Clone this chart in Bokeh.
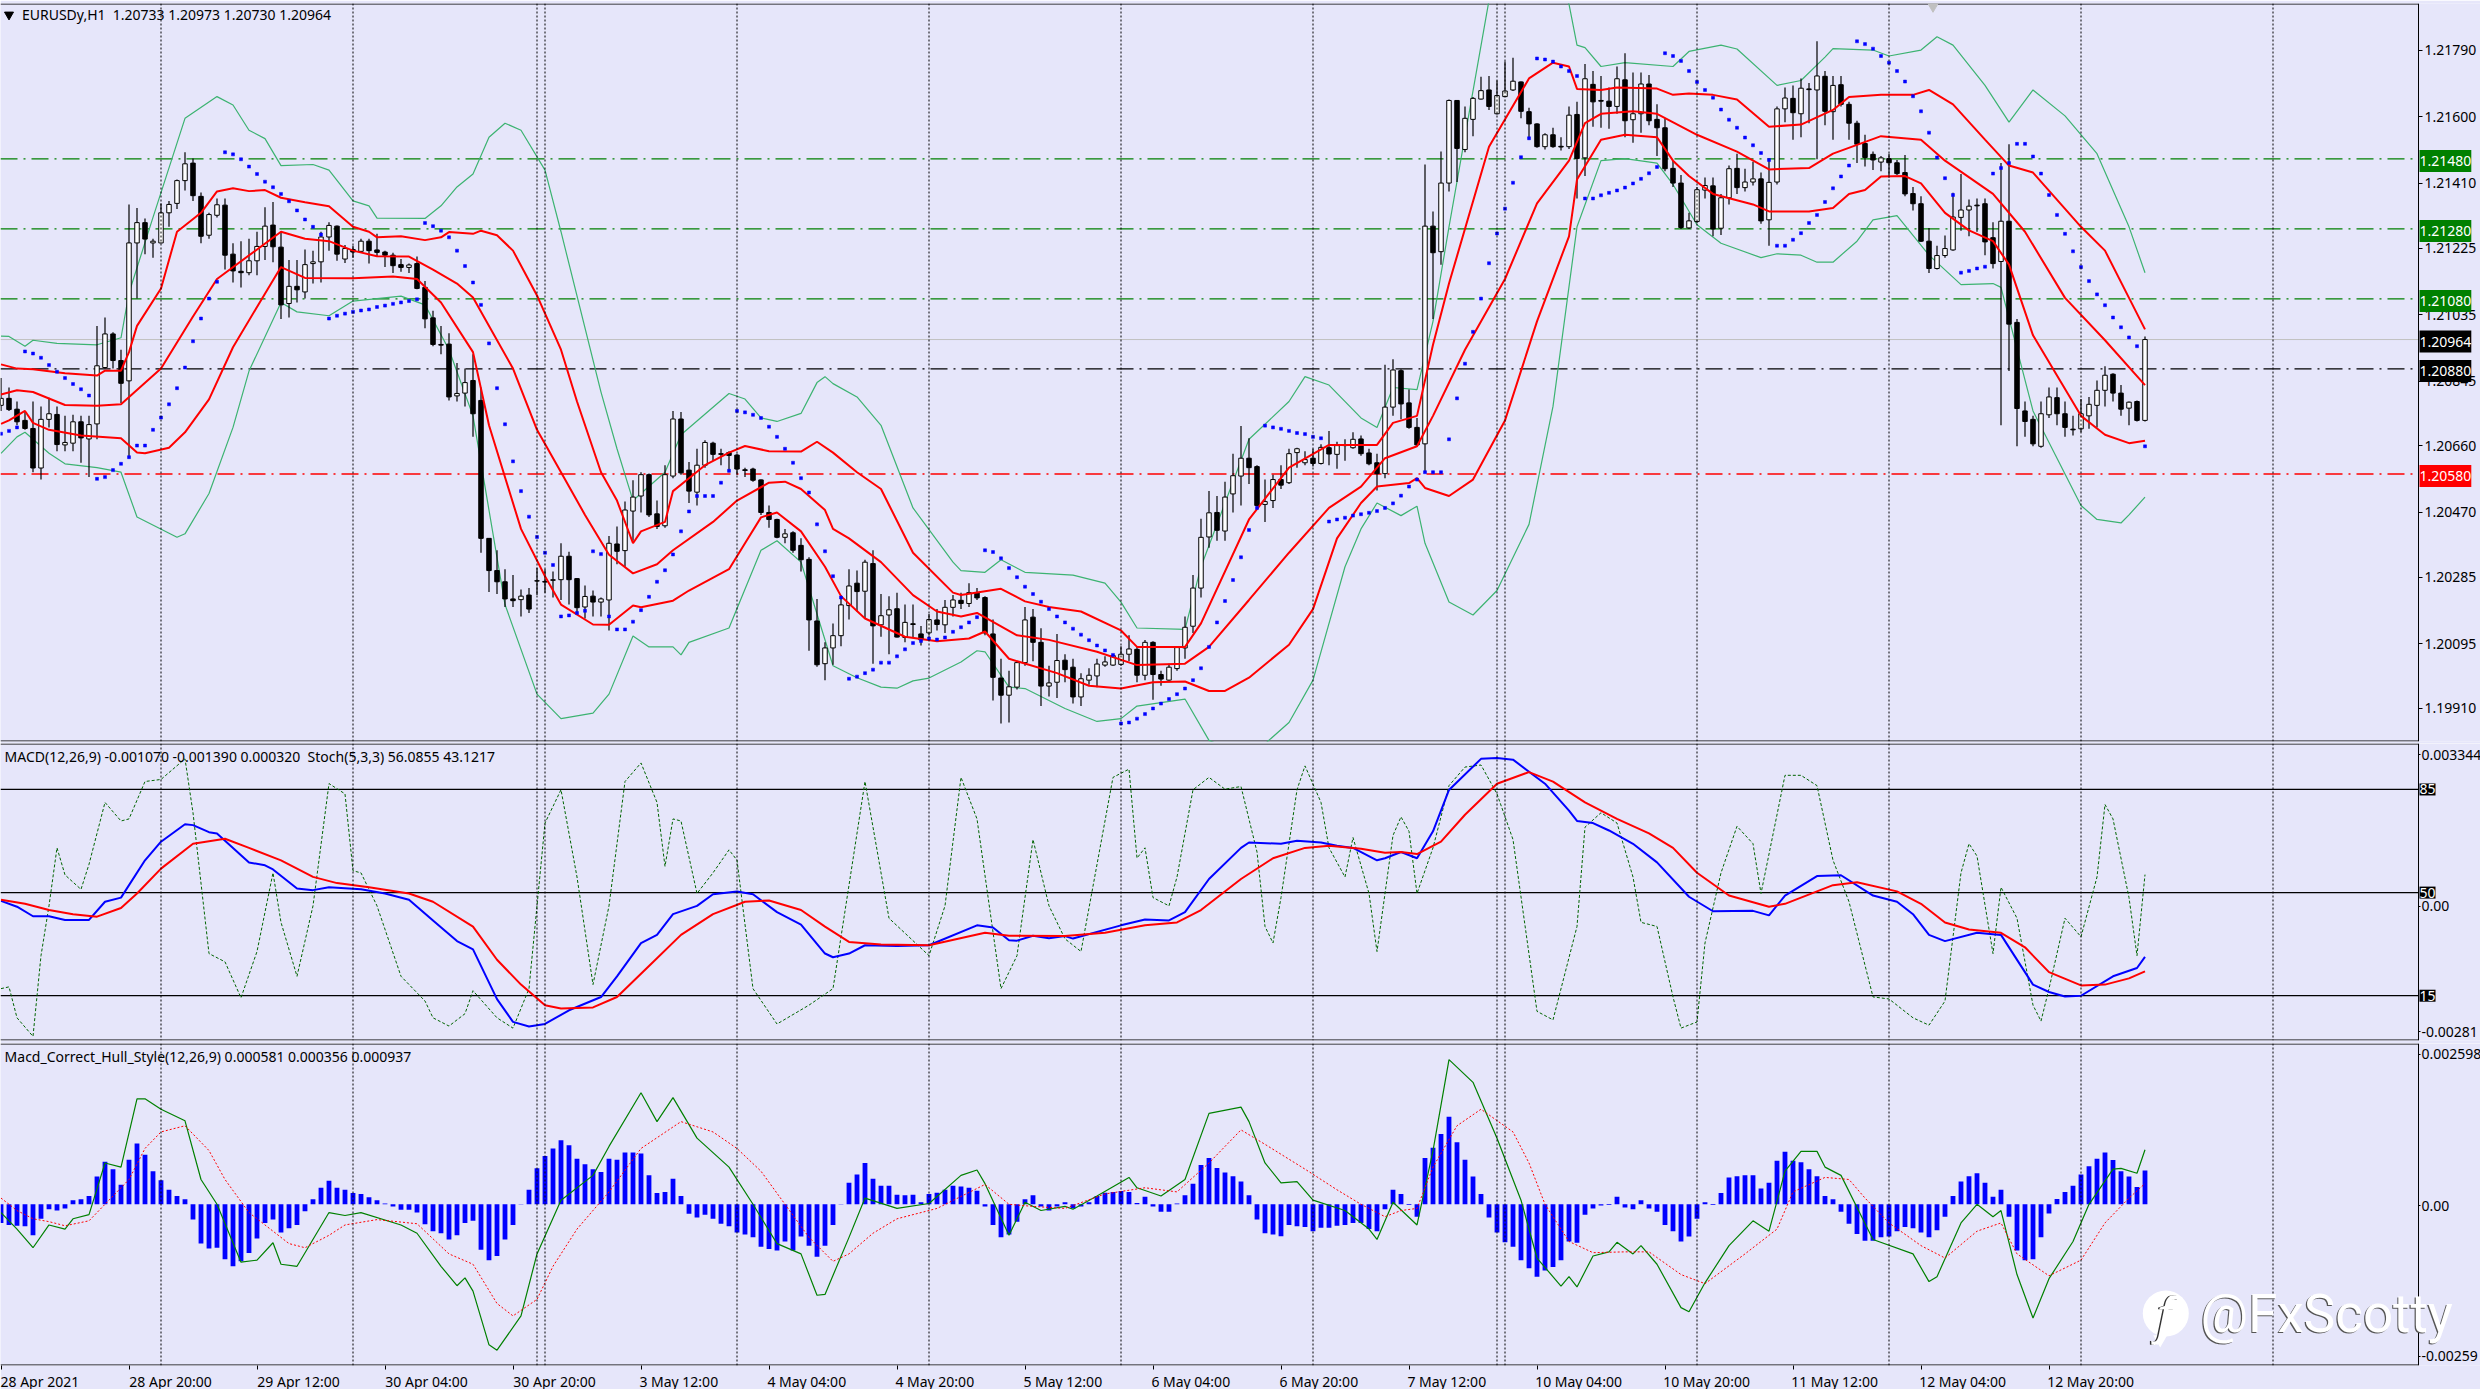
from bokeh.plotting import figure
from bokeh.layouts import column
from bokeh.models import (ColumnDataSource, Range1d, FixedTicker, Span, Label)
from bokeh.embed import file_html
from bokeh.resources import INLINE

# ---- candles: prices as points, price = 1 + points / 100000 ----
opens = [20776,20796,20765,20733,20710,20597,20736,20750,20663,20668,20729,20680,20723,20884,20980,20904,20846,21240,21298,21240,21240,21326,21353,21418,21468,21373,21262,21319,21348,21208,21159,21155,21189,21230,21291,21228,21067,21116,21100,21181,21186,21257,21288,21194,21221,21216,21245,21220,21214,21205,21178,21170,21181,21113,21026,20950,20951,20803,20811,20847,20790,20396,20304,20272,20223,20221,20234,20275,20273,20276,20278,20345,20281,20200,20231,20214,20220,20380,20361,20474,20517,20578,20466,20432,20574,20737,20591,20528,20605,20668,20638,20641,20634,20592,20594,20563,20470,20450,20399,20412,
20376,20336,20160,20038,20083,20118,20204,20268,20245,20324,20149,20177,20195,20113,20152,20123,20126,20163,20149,20199,20219,20210,20241,20227,20123,19997,19948,19971,20041,20171,20099,19974,19985,20048,20028,19943,19991,20003,20034,20034,20036,20065,20079,20005,20099,20007,19991,20024,20083,20145,20254,20400,20470,20417,20523,20574,20625,20601,20493,20504,20564,20555,20641,20612,20625,20610,20655,20636,20663,20655,20680,20640,20612,20581,20771,20875,20783,20713,20666,21288,21215,21411,21647,21507,21593,21651,21677,21609,21658,21677,21700,21615,21580,21515,21549,21516,21515,21607,21483,21693,
21647,21645,21630,21706,21592,21609,21694,21593,21569,21453,21411,21283,21301,21391,21403,21282,21369,21453,21398,21414,21423,21306,21414,21623,21653,21609,21680,21677,21716,21615,21692,21636,21582,21524,21493,21471,21481,21469,21441,21381,21352,21245,21167,21204,21220,21313,21334,21348,21352,21255,21187,21302,21013,20760,20736,20659,20749,20798,20752,20708,20709,20746,20776,20819,20865,20811,20768,20787,20733]
highs = [20854,20827,20787,20760,20787,20773,20798,20773,20746,20749,20746,20746,21003,21027,20985,20935,21350,21340,21310,21252,21353,21360,21421,21499,21481,21384,21326,21367,21367,21239,21245,21252,21272,21342,21357,21272,21191,21191,21221,21218,21272,21299,21290,21234,21232,21252,21252,21266,21218,21212,21194,21181,21201,21131,21046,21003,20982,20897,20881,20922,20827,20396,20362,20308,20291,20250,20254,20312,20308,20301,20382,20358,20283,20261,20247,20227,20403,20430,20501,20562,20585,20581,20504,20605,20760,20757,20614,20652,20676,20672,20652,20645,20638,20598,20598,20564,20490,20452,20423,20416,
20396,20342,20223,20099,20153,20234,20308,20304,20335,20362,20237,20231,20241,20207,20207,20146,20180,20194,20220,20234,20241,20268,20254,20231,20164,20052,20018,20045,20200,20194,20139,20032,20123,20065,20052,20011,20025,20052,20059,20065,20088,20119,20086,20106,20102,20018,20038,20088,20173,20291,20452,20531,20517,20558,20638,20717,20682,20605,20564,20578,20605,20652,20655,20645,20652,20665,20703,20672,20679,20699,20690,20652,20638,20892,20908,20879,20821,20740,21464,21330,21501,21650,21647,21630,21657,21715,21717,21704,21758,21769,21701,21626,21582,21553,21569,21542,21630,21643,21751,21731,
21717,21684,21744,21782,21727,21727,21720,21636,21596,21475,21434,21326,21400,21427,21427,21380,21461,21495,21452,21472,21441,21481,21630,21684,21690,21710,21697,21816,21731,21717,21717,21643,21589,21549,21501,21488,21495,21477,21491,21400,21373,21283,21232,21261,21383,21437,21364,21367,21367,21299,21468,21522,21023,20787,20746,20787,20827,20827,20787,20746,20794,20800,20847,20888,20868,20834,20787,20790,20973]
lows = [20760,20760,20719,20706,20585,20564,20713,20645,20645,20645,20612,20571,20679,20881,20881,20783,20625,21081,21208,21198,21239,21286,21337,21390,21360,21239,21252,21313,21164,21127,21113,21148,21148,21191,21185,21023,21027,21070,21081,21124,21127,21218,21189,21183,21198,21212,21181,21202,21171,21154,21158,21154,21108,20996,20945,20922,20790,20787,20773,20686,20355,20243,20237,20200,20200,20173,20183,20234,20241,20227,20220,20207,20180,20167,20173,20173,20133,20322,20315,20389,20470,20457,20423,20426,20568,20578,20497,20490,20598,20618,20605,20585,20578,20571,20558,20463,20426,20396,20382,20355,
20301,20075,20029,19991,20035,20088,20164,20187,20167,20038,20115,20065,20113,20099,20113,20090,20119,20133,20126,20173,20194,20200,20220,20119,19933,19867,19870,19964,20032,20045,19917,19944,19940,19985,19924,19917,19978,19971,20029,20032,20032,20045,19985,19991,19935,19975,19985,20018,20052,20126,20227,20369,20389,20389,20470,20490,20551,20483,20443,20483,20537,20551,20598,20605,20601,20607,20605,20595,20618,20652,20632,20605,20533,20568,20746,20736,20709,20659,20585,21023,21178,21387,21414,21499,21545,21650,21620,21607,21657,21674,21596,21535,21512,21507,21512,21504,21508,21367,21431,21572,
21569,21566,21609,21542,21526,21555,21576,21488,21445,21400,21280,21280,21297,21367,21259,21263,21350,21380,21387,21404,21295,21232,21407,21585,21535,21542,21582,21479,21576,21535,21630,21535,21468,21458,21448,21445,21427,21434,21373,21333,21243,21154,21164,21198,21218,21275,21259,21272,21205,21167,20719,20874,20659,20686,20659,20655,20740,20719,20686,20690,20699,20709,20713,20773,20787,20746,20719,20730,20730]
closes = [20796,20764,20729,20710,20597,20736,20752,20664,20670,20729,20683,20721,20889,20980,20904,20839,21240,21298,21251,21245,21326,21350,21418,21466,21375,21259,21321,21349,21205,21160,21155,21189,21230,21288,21229,21063,21116,21106,21178,21186,21257,21290,21208,21224,21214,21245,21218,21213,21205,21175,21170,21177,21110,21023,20950,20948,20800,20810,20841,20752,20396,20304,20272,20223,20218,20231,20194,20274,20271,20278,20345,20278,20198,20230,20214,20223,20382,20359,20477,20514,20578,20463,20430,20578,20737,20583,20531,20605,20670,20636,20636,20633,20594,20590,20562,20470,20450,20399,20409,20362,
20335,20163,20035,20083,20118,20206,20260,20244,20328,20146,20175,20192,20114,20156,20150,20106,20164,20150,20199,20220,20210,20241,20226,20126,19999,19948,19972,20041,20163,20099,19974,19983,20047,20021,19943,19995,20005,20037,20043,20061,20065,20080,20005,20099,20007,19994,20028,20084,20142,20254,20399,20469,20419,20514,20575,20625,20598,20490,20501,20564,20548,20638,20652,20621,20610,20656,20637,20661,20661,20679,20638,20609,20581,20771,20877,20780,20713,20663,21288,21212,21411,21647,21510,21596,21653,21675,21630,21661,21674,21702,21616,21580,21515,21549,21515,21514,21605,21481,21709,21643,
21645,21630,21709,21589,21609,21694,21589,21569,21452,21411,21284,21303,21392,21404,21280,21369,21452,21398,21414,21423,21303,21413,21623,21654,21612,21682,21678,21717,21616,21690,21636,21582,21522,21484,21477,21483,21469,21438,21380,21352,21245,21167,21204,21224,21314,21334,21345,21346,21243,21181,21302,21008,20767,20730,20666,20752,20800,20752,20713,20706,20752,20779,20819,20862,20811,20765,20785,20733,20964]

# ---- fixed horizontal levels ----
green_levels = [1.21480, 1.21280, 1.21080]
black_level = 1.20880
red_level = 1.20580
last_price = 1.20964

# ---- bands: bar index and price points ----
upper_red = [(0,20893),(2,20881),(4,20879),(8,20868),(12,20861),(13,20875),(15,20875),(16,20928),(17,21003),(20,21110),(22,21272),(25,21326),(27,21387),(29,21396),(31,21388),(33,21391),(35,21369),(38,21356),(41,21345),(44,21286),(46,21272),(47,21256),(50,21259),(53,21248),(55,21256),(56,21271),(59,21266),(60,21275),(62,21262),(64,21218),(67,21090),(70,20935),(72,20787),(75,20585),(77,20504),(79,20382),(80,20416),(83,20443),(84,20531),(86,20568),(88,20605),(91,20641),(93,20660),(96,20645),(100,20644),(102,20672),(104,20641),(107,20585),(110,20537),(114,20355),(119,20241),(120,20234),(125,20252),(128,20216),(131,20200),(135,20187),(140,20133),(142,20086),(148,20086),(150,20153),(156,20450),(161,20598),(166,20663),(172,20663),(174,20726),(177,20746),(179,20949),(181,21124),(186,21515),(191,21710),(194,21755),(196,21744),(197,21680),(200,21677),(202,21684),(207,21681),(209,21663),(211,21667),(214,21663),(217,21650),(221,21572),(225,21578),(229,21620),(231,21657),(235,21663),(239,21663),(241,21677),(244,21636),(248,21535),(251,21461),(254,21441),(260,21286),(263,21218),(266,21083),(268,20993)]
middle_red = [(0,20807),(2,20819),(4,20814),(8,20777),(12,20775),(15,20779),(20,20881),(24,21030),(27,21137),(35,21272),(38,21252),(41,21245),(44,21218),(47,21202),(51,21201),(54,21164),(57,21124),(59,21084),(64,20881),(67,20706),(70,20585),(73,20463),(76,20349),(79,20296),(82,20322),(84,20362),(89,20443),(92,20504),(96,20555),(98,20558),(100,20537),(103,20477),(104,20423),(106,20396),(110,20328),(114,20234),(117,20187),(120,20173),(122,20183),(127,20119),(131,20106),(137,20072),(142,20034),(148,20038),(151,20086),(156,20220),(161,20355),(166,20483),(170,20544),(172,20598),(173,20625),(177,20659),(179,20746),(183,20935),(188,21137),(192,21353),(196,21475),(198,21582),(200,21609),(204,21616),(207,21609),(212,21549),(217,21501),(221,21450),(226,21454),(229,21495),(235,21545),(240,21535),(243,21475),(249,21380),(253,21272),(258,21083),(263,20962),(268,20834)]
lower_red = [(0,20723),(1,20733),(3,20760),(4,20726),(6,20706),(10,20690),(15,20682),(17,20641),(18,20639),(21,20655),(23,20699),(26,20793),(29,20942),(32,21057),(35,21171),(38,21140),(44,21139),(49,21144),(52,21137),(55,21070),(59,20928),(61,20719),(65,20423),(68,20288),(70,20207),(74,20150),(76,20149),(79,20204),(80,20199),(84,20218),(86,20247),(91,20308),(93,20382),(95,20456),(97,20470),(100,20416),(103,20315),(105,20231),(108,20167),(113,20115),(117,20102),(121,20110),(123,20130),(126,20052),(132,20011),(136,19975),(140,19967),(144,19985),(148,19987),(151,19960),(153,19960),(156,19998),(161,20092),(164,20194),(167,20396),(170,20497),(172,20544),(176,20554),(177,20568),(178,20540),(181,20517),(184,20564),(188,20733),(192,21016),(196,21259),(197,21421),(200,21535),(203,21549),(207,21542),(209,21475),(211,21431),(214,21380),(219,21350),(221,21330),(226,21330),(229,21340),(231,21380),(233,21391),(235,21430),(238,21431),(240,21410),(243,21326),(246,21276),(249,21245),(251,21178),(254,20976),(260,20746),(263,20692),(266,20668),(268,20675)]
upper_green = [(0,20974),(1,20973),(3,20945),(4,20962),(7,20953),(12,20949),(15,20969),(16,21097),(19,21313),(23,21596),(27,21658),(29,21634),(31,21562),(33,21538),(35,21461),(39,21464),(41,21448),(44,21360),(46,21346),(47,21311),(53,21310),(55,21346),(57,21400),(59,21437),(61,21542),(63,21582),(65,21562),(68,21448),(70,21272),(75,20814),(77,20652),(79,20504),(83,20585),(85,20692),(91,20810),(93,20794),(95,20740),(97,20730),(100,20753),(102,20841),(103,20858),(104,20838),(107,20800),(110,20719),(114,20483),(119,20328),(120,20304),(123,20299),(125,20335),(128,20299),(134,20291),(138,20268),(140,20214),(142,20140),(148,20136),(150,20315),(156,20679),(161,20787),(163,20858),(166,20834),(170,20740),(172,20713),(174,20827),(177,20821),(179,21016),(181,21286),(186,21933),(189,22041),(194,22014),(196,21922),(197,21805),(198,21798),(200,21744),(203,21755),(209,21744),(211,21787),(215,21805),(217,21794),(222,21690),(225,21704),(228,21771),(229,21795),(234,21791),(236,21774),(240,21791),(242,21829),(244,21805),(248,21690),(251,21585),(254,21677),(258,21603),(262,21495),(266,21286),(268,21155)]
lower_green = [(0,20639),(2,20686),(3,20699),(6,20639),(8,20609),(12,20598),(15,20585),(17,20457),(22,20399),(23,20409),(26,20524),(29,20713),(31,20874),(35,21070),(37,21043),(41,21032),(44,21074),(50,21088),(53,21063),(56,20935),(59,20746),(63,20207),(67,19951),(70,19881),(74,19897),(76,19951),(79,20117),(81,20086),(84,20086),(85,20063),(86,20099),(91,20140),(95,20362),(97,20389),(100,20328),(102,20180),(104,20032),(107,19998),(110,19971),(112,19968),(114,19989),(116,19997),(120,20043),(122,20075),(123,20072),(126,19971),(128,19967),(133,19910),(137,19873),(140,19881),(142,19917),(148,19937),(151,19819),(154,19789),(157,19789),(161,19870),(164,19991),(168,20315),(170,20423),(172,20497),(175,20461),(177,20488),(178,20382),(181,20214),(184,20177),(187,20247),(191,20436),(194,20773),(197,21286),(200,21475),(203,21481),(207,21468),(209,21407),(212,21292),(215,21239),(220,21198),(222,21209),(225,21205),(227,21185),(229,21185),(232,21245),(234,21306),(237,21318),(241,21205),(245,21121),(249,21124),(250,21113),(254,20760),(260,20490),(262,20450),(265,20440),(266,20463),(268,20514)]

# ---- parabolic SAR, one value per bar, price points ----
psar = [20695,20703,20713,20930,20924,20912,20891,20872,20854,20837,20822,20804,20566,20571,20591,20609,20628,20661,20661,20706,20741,20779,20825,20884,20959,21024,21081,21129,21499,21493,21479,21458,21437,21415,21399,21380,21359,21333,21307,21286,21264,21024,21032,21038,21043,21047,21050,21057,21061,21066,21070,21074,21079,21297,21288,21275,21256,21218,21174,21127,21063,20953,20825,20722,20616,20531,20458,20400,20355,20320,20173,20176,20183,20189,20359,20351,20173,20136,20136,20158,20191,20229,20272,20305,20350,20416,20473,20517,20517,20517,20555,20589,20760,20756,20749,20740,20715,20686,20652,20612,
20568,20527,20436,20359,20288,20227,19995,20001,20011,20021,20041,20041,20059,20079,20097,20103,20110,20107,20113,20129,20142,20156,20171,20362,20357,20339,20311,20285,20258,20237,20215,20194,20173,20156,20138,20121,20105,20090,20076,20063,19867,19870,19881,19894,19910,19924,19937,19951,19967,19991,20025,20086,20156,20217,20277,20342,20420,20483,20718,20713,20709,20703,20697,20694,20686,20682,20444,20450,20455,20461,20465,20469,20474,20483,20496,20518,20544,20564,20585,20585,20585,20679,20796,20895,20986,21081,21182,21267,21338,21412,21485,21539,21767,21764,21758,21744,21731,21717,21367,21367,
21376,21383,21390,21398,21410,21423,21439,21457,21782,21774,21760,21731,21700,21677,21655,21621,21592,21569,21541,21519,21497,21477,21232,21232,21249,21268,21297,21320,21357,21396,21430,21461,21816,21808,21795,21774,21755,21731,21701,21659,21616,21555,21484,21425,21377,21155,21160,21167,21172,21438,21454,21468,21523,21523,21487,21438,21377,21320,21266,21216,21171,21131,21093,21062,21027,20999,20970,20945,20659]

# ---- MACD(12,26,9) in millionths ----
macd_main = [(0,175),(2,46),(4,-166),(6,-166),(8,-248),(11,-248),(13,156),(15,248),(18,1076),(20,1490),(23,1877),(24,1858),(26,1702),(27,1674),(31,1030),(33,966),(34,874),(37,451),(39,414),(41,478),(45,432),(48,340),(51,202),(54,-258),(57,-718),(59,-902),(62,-2006),(64,-2512),(66,-2613),(68,-2558),(71,-2254),(75,-1960),(77,-1500),(80,-764),(82,-580),(84,-120),(87,64),(89,322),(92,386),(94,322),(97,-74),(100,-350),(103,-994),(104,-1076),(106,-994),(108,-810),(112,-828),(116,-810),(122,-368),(124,-414),(126,-699),(127,-708),(129,-598),(131,-653),(133,-607),(134,-662),(140,-368),(143,-239),(146,-258),(148,-74),(151,662),(155,1352),(156,1472),(160,1444),(162,1509),(165,1472),(167,1398),(169,1352),(172,1076),(173,1122),(175,1260),(177,1122),(179,1720),(181,2640),(185,3330),(187,3349),(189,3312),(193,2778),(196,2180),(197,1950),(199,1904),(201,1739),(204,1444),(207,1030),(211,267),(214,-55),(219,-46),(221,-147),(223,294),(227,727),(230,745),(234,294),(237,156),(239,-120),(241,-580),(243,-718),(247,-534),(250,-580),(254,-1684),(256,-1849),(258,-1950),(260,-1932),(264,-1500),(267,-1316),(268,-1070)]
macd_signal = [(0,202),(3,110),(6,-28),(9,-120),(12,-175),(15,18),(17,340),(20,892),(24,1444),(28,1555),(31,1352),(35,1076),(39,708),(42,570),(46,478),(51,340),(54,156),(59,-396),(62,-1132),(65,-1684),(68,-2144),(70,-2217),(74,-2190),(77,-1960),(81,-1270),(85,-580),(89,-120),(93,156),(96,184),(100,-28),(103,-396),(106,-736),(110,-791),(116,-810),(123,-534),(126,-598),(133,-607),(138,-534),(143,-368),(147,-304),(150,-28),(155,662),(159,1122),(163,1352),(166,1398),(170,1334),(173,1242),(175,1260),(177,1214),(180,1490),(183,2088),(187,2778),(191,3036),(194,2824),(198,2364),(202,1996),(206,1674),(209,1352),(212,800),(216,294),(221,46),(223,110),(229,524),(232,589),(237,386),(240,110),(243,-304),(246,-460),(250,-534),(253,-856),(256,-1408),(260,-1702),(263,-1684),(266,-1546),(268,-1390)]
# ---- Stoch(5,3,3) ----
stoch = [(0,17.4),(1,18),(2,7.5),(4,1.2),(5,28.6),(6,45.5),(7,65.2),(8,56),(10,51.1),(11,59.6),(13,80.6),(15,74.3),(16,75),(18,87.7),(20,88.4),(23,95.4),(24,77.1),(26,29.3),(28,26.5),(30,14.3),(32,30),(34,56.7),(35,39.9),(37,21.6),(39,45.5),(41,87),(43,83.5),(44,57.4),(45,56.7),(47,45.5),(50,21.6),(53,13.2),(54,7.5),(56,4.7),(58,8.9),(59,16.7),(62,7.5),(64,4),(66,17.4),(68,73.6),(70,84.9),(72,55.3),(74,18.8),(76,45.5),(78,87.7),(80,94),(82,80.6),(83,58.9),(84,75),(85,74.3),(87,49.7),(89,56.7),(91,64.5),(92,61),(94,17.4),(97,5.4),(101,11.8),(104,17.4),(106,52.5),(108,87.7),(111,41.3),(116,28.6),(118,45.5),(120,89.1),(122,75),(125,17.4),(127,28.6),(129,68),(131,45.5),(133,34.3),(135,30),(139,89.1),(141,91.9),(142,61.7),(143,65.2),(144,48.3),(146,45.5),(147,55.3),(149,84.9),(151,89.1),(153,85.1),(155,86),(157,63.8),(158,38.5),(159,32.9),(160,48.3),(162,84.9),(163,93),(165,80.6),(166,65.2),(168,55.3),(169,68.7),(171,49.7),(172,30),(174,69.4),(175,75.7),(176,70.8),(177,49.7),(179,65.2),(181,86.3),(183,92.6),(185,93.3),(187,83.5),(189,68),(192,9.7),(194,6.8),(197,38.5),(198,72.2),(200,77.1),(202,73.6),(204,55.3),(205,39.9),(207,38.5),(209,14.6),(210,4),(212,6.1),(213,32.9),(215,56.7),(217,72.5),(219,66.6),(220,49.7),(223,89.8),(225,89.8),(227,86.3),(229,61),(231,46.9),(234,14.6),(236,13.9),(239,7.5),(241,5),(243,13.2),(245,56.7),(246,66.6),(247,62.4),(249,29.3),(250,51.8),(252,41.3),(254,11.8),(255,6.4),(256,17.4),(258,41.3),(260,35),(262,55.3),(263,79.9),(264,75),(266,48.3),(267,28.6),(268,56.1)]
stoch_levels = [85, 50, 15]

# ---- Macd_Correct_Hull_Style(12,26,9) in millionths ----
hull_hist = [-320,-355,-369,-376,-533,-249,-85,-107,-71,71,85,142,476,731,604,334,767,1044,852,568,412,249,142,85,-263,-675,-760,-746,-944,-1065,-980,-838,-589,-320,-263,-483,-412,-355,-121,85,284,405,284,249,192,178,121,71,14,-36,-92,-92,-142,-341,-462,-497,-604,-533,-320,-284,-781,-959,-888,-604,-355,5,249,618,831,959,1101,1015,781,689,604,554,781,767,888,888,873,497,192,213,440,142,-163,-227,-178,-249,-334,-376,-483,-518,-568,-731,-767,-795,-639,-795,-554,-710,-902,-710,-355,5,369,511,710,440,320,320,163,156,163,36,178,199,249,320,305,284,234,-36,-355,-568,-518,-298,85,156,-36,-107,-36,36,-71,-36,36,142,199,213,227,213,21,128,-36,-128,-128,14,156,355,675,795,625,547,483,390,156,-263,-497,-518,-547,-355,-376,-390,-462,-405,-405,-369,-355,-320,-320,-426,-462,-85,249,178,-14,-213,795,973,1207,1505,1065,767,476,178,-227,-483,-653,-731,-959,-1100,-1243,-1136,-1079,-959,-639,-660,-178,-71,-21,-14,128,-57,-85,71,-71,-128,-355,-462,-639,-554,-249,36,-14,192,462,483,497,497,270,369,746,902,746,724,604,483,142,85,-128,-334,-511,-625,-625,-568,-554,-462,-390,-412,-483,-568,-447,-213,142,390,483,533,369,128,249,-213,-795,-959,-944,-568,-156,92,213,320,511,653,781,888,760,568,476,298,581]
hull_green = [(0,-142),(2,-426),(4,-746),(6,-355),(8,-426),(9,-249),(11,-178),(13,710),(15,639),(17,1811),(18,1811),(20,1633),(23,1434),(25,426),(27,0),(30,-994),(32,-959),(34,-660),(35,-1030),(37,-1065),(41,-142),(43,-192),(45,-142),(50,-355),(52,-497),(55,-1065),(57,-1399),(58,-1264),(59,-1491),(61,-2414),(62,-2506),(65,-1917),(67,-852),(70,71),(74,497),(76,994),(80,1917),(82,1420),(84,1832),(87,1136),(91,639),(94,0),(97,-675),(100,-852),(102,-1562),(103,-1548),(106,-568),(108,107),(112,-71),(116,14),(120,497),(122,589),(123,355),(126,-533),(128,36),(130,-107),(133,-36),(134,-85),(137,142),(141,462),(142,284),(145,142),(148,426),(151,1562),(155,1669),(156,1420),(158,710),(160,369),(162,390),(164,71),(168,-107),(171,-426),(172,-604),(174,36),(177,-355),(179,923),(181,2485),(184,2095),(187,1136),(190,71),(192,-923),(195,-1406),(196,-1243),(197,-1420),(199,-888),(201,-817),(202,-653),(204,-852),(205,-710),(207,-1030),(210,-1775),(211,-1846),(213,-1349),(216,-710),(219,-284),(221,-462),(223,568),(225,909),(227,909),(228,639),(230,497),(234,-604),(239,-852),(241,-1328),(242,-1243),(245,-320),(247,0),(249,-213),(250,-107),(252,-1207),(254,-1953),(256,-1278),(259,-639),(261,0),(264,604),(265,618),(267,533),(268,937)]
hull_red = [(0,107),(2,-107),(4,-249),(6,-298),(8,-369),(11,-284),(13,0),(16,426),(18,959),(20,1243),(23,1349),(26,923),(28,426),(31,-142),(33,-355),(36,-675),(38,-746),(41,-533),(43,-355),(47,-263),(52,-334),(56,-852),(59,-1030),(62,-1704),(64,-1917),(67,-1633),(69,-1065),(72,-426),(76,213),(80,959),(85,1420),(89,1243),(92,959),(95,568),(98,0),(101,-568),(104,-980),(106,-852),(109,-497),(112,-249),(117,-71),(123,341),(126,0),(129,-36),(133,-71),(138,178),(143,284),(147,213),(151,710),(155,1278),(158,1030),(163,604),(167,249),(170,0),(173,-213),(175,-107),(177,-71),(179,639),(182,1349),(185,1633),(189,1243),(191,710),(193,0),(196,-639),(199,-831),(203,-817),(206,-817),(210,-1207),(213,-1363),(218,-852),(222,-426),(224,213),(228,462),(231,426),(233,107),(236,-320),(240,-710),(243,-923),(247,-462),(250,-320),(252,-852),(256,-1228),(260,-959),(263,-320),(266,107),(268,356)]

# ---- axes ----
price_ticks = [1.21790,1.21600,1.21410,1.21225,1.21035,1.20845,1.20660,1.20470,1.20285,1.20095,1.19910]
period_sep_bars = [20,44,67,68,92,116,140,164,187,188,212,236,260,284]
date_ticks = [0,16,32,48,64,80,96,112,128,144,160,176,192,208,224,240,256]
date_labels = ["28 Apr 2021","28 Apr 20:00","29 Apr 12:00","30 Apr 04:00","30 Apr 20:00","3 May 12:00","4 May 04:00","4 May 20:00","5 May 12:00","6 May 04:00","6 May 20:00","7 May 12:00","10 May 04:00","10 May 20:00","11 May 12:00","12 May 04:00","12 May 20:00"]
macd_axis_labels = {0.003422:"0.003344", 0.000055:"0.00", -0.00273:"-0.00281"}
hull_axis_labels = {0.002577:"0.002598", -0.0000284:"0.00", -0.002613:"-0.00259"}

BG = "#E6E6FA"
FONT = "Noto Sans"
X0, X1 = -0.0625, -0.0625 + 2480 / 8
AXIS_BAR = -0.0625 + 2418 / 8
PX = lambda v: 1 + v / 100000

def pane(h, fh, y0, y1, top=0, bottom=0, xloc=None):
    p = figure(width=2480, height=h, frame_width=2480, frame_height=fh, output_backend="svg",
               toolbar_location=None, x_range=Range1d(X0, X1), y_range=Range1d(y0, y1),
               y_axis_location="right", x_axis_location=xloc, background_fill_color=BG, border_fill_color=BG,
               min_border_left=0, min_border_right=0, min_border_top=top, min_border_bottom=bottom, tools="")
    p.grid.visible = False
    p.outline_line_color = None
    ax = p.yaxis[0]
    ax.fixed_location = AXIS_BAR
    ax.axis_line_color = "black"
    ax.major_label_text_font = FONT
    ax.major_label_text_font_size = "14px"
    ax.major_label_text_color = "black"
    ax.minor_tick_line_color = None
    # pane edges stop at the price axis
    eps = (y1 - y0) / fh * 0.5
    for yy in (y0 + eps, y1 - eps):
        p.segment([X0], [yy], [AXIS_BAR], [yy], line_color="black", line_width=1)
    return p

def seps(p):
    for b in period_sep_bars:
        p.add_layout(Span(location=b, dimension="height", line_color="black", line_dash="2 2", line_width=1))

def hline(p, y, color, dash="solid", width=1.3, **kw):
    p.segment([X0], [y], [AXIS_BAR], [y], line_color=color, line_dash=dash, line_width=width, **kw)

def caption(p, text, x, y):
    p.add_layout(Label(x=x, y=y, text=text, text_font=FONT, text_font_size="14px", text_color="black",
                       text_baseline="middle", text_align="left"))

def tag(p, y, text, fill, x=2419, pad=(0, 6), off=-2, yr=None):
    kw = {"y_range_name": yr} if yr else {}
    p.add_layout(Label(x=x, x_units="canvas", y=y, y_offset=off, text=text, text_font=FONT, text_font_size="14px",
                       text_color="white", text_baseline="middle", text_align="left", background_fill_color=fill,
                       padding=pad, level="overlay", **kw))

def xy(points, f=lambda v: v):
    return [a for a, _ in points], [f(b) for _, b in points]

# ================= main pane =================
p1 = pane(743, 738, 1.198157, 1.21924, top=3, bottom=2)
ax = p1.yaxis[0]
ax.ticker = FixedTicker(ticks=price_ticks)
ax.major_label_overrides = {t: f"{t:.5f}" for t in price_ticks}
ax.major_tick_out, ax.major_tick_in, ax.major_label_standoff = 4, 0, 2
seps(p1)
DD = "17 6 2 6"
for lvl in green_levels:
    hline(p1, lvl, "#008000", DD)
hline(p1, black_level, "black", DD)
hline(p1, red_level, "#FF0000", DD, 1.5)
hline(p1, last_price, "#C0C0C0", width=1)

bars = list(range(len(closes)))
src = ColumnDataSource(dict(
    x=bars,
    high=[PX(v) for v in highs], low=[PX(v) for v in lows],
    top=[PX(max(a, b)) for a, b in zip(opens, closes)],
    bottom=[PX(min(a, b)) for a, b in zip(opens, closes)],
    fill=["white" if c >= o else "black" for o, c in zip(opens, closes)],
))
for band in (upper_green, lower_green):
    bx, by = xy(band, PX)
    p1.line(bx, by, line_color="#3CB371", line_width=1.2)
p1.segment("x", "high", "x", "low", source=src, line_color="black", line_width=1.2)
p1.vbar(x="x", top="top", bottom="bottom", width=0.56, fill_color="fill", line_color="black", line_width=1, source=src)
for band in (upper_red, middle_red, lower_red):
    bx, by = xy(band, PX)
    p1.line(bx, by, line_color="#FF0000", line_width=2)
p1.scatter(list(range(len(psar))), [PX(v) for v in psar], marker="square", size=3, fill_color="#0000FF", line_color="#0000FF", line_width=0.5)

for lvl in green_levels:
    tag(p1, lvl, f"{lvl:.5f}", "#008000")
tag(p1, last_price, f"{last_price:.5f}", "black")
tag(p1, black_level, f"{black_level:.5f}", "black")
tag(p1, red_level, f"{red_level:.5f}", "#FF0000")
p1.scatter([1.0], [1.21892], marker="inverted_triangle", size=9, fill_color="black", line_color="black")
p1.scatter([241.5], [1.21917], marker="inverted_triangle", size=11, fill_color="#C0C0C0", line_color="#C0C0C0")
caption(p1, "EURUSDy,H1\u00a0\u00a01.20733 1.20973 1.20730 1.20964", 2.62, 1.21892)

# ================= MACD + Stoch =================
p2 = pane(300, 297, -0.0029256, 0.0036708, bottom=3)
p2.extra_y_ranges = {"stoch": Range1d(-0.2, 100.6)}
ax = p2.yaxis[0]
ax.ticker = FixedTicker(ticks=list(macd_axis_labels))
ax.major_label_overrides = macd_axis_labels
ax.major_tick_out, ax.major_tick_in, ax.major_label_standoff = 2, 0, 1
seps(p2)
for lvl in stoch_levels:
    hline(p2, lvl, "black", width=1.2, y_range_name="stoch")
sx, sy = xy(stoch)
p2.line(sx, sy, line_color="#006400", line_width=1, line_dash="3 2", y_range_name="stoch")
mx, my = xy(macd_main, lambda v: v / 1e6)
p2.line(mx, my, line_color="#0000FF", line_width=2)
mx, my = xy(macd_signal, lambda v: v / 1e6)
p2.line(mx, my, line_color="#FF0000", line_width=2)
for lvl in stoch_levels:
    tag(p2, lvl, str(lvl), "black", x=2419, pad=(0, 1), off=0, yr="stoch")
caption(p2, "MACD(12,26,9) -0.001070 -0.001390 0.000320\u00a0\u00a0Stoch(5,3,3) 56.0855 43.1217", 0.45, 0.003376)

# ================= Hull MACD =================
p3 = pane(346, 322, -0.002769, 0.002762, xloc="below")
ax = p3.yaxis[0]
ax.ticker = FixedTicker(ticks=list(hull_axis_labels))
ax.major_label_overrides = hull_axis_labels
ax.major_tick_out, ax.major_tick_in, ax.major_label_standoff = 2, 0, 1
xa = p3.xaxis[0]
offs = {t + 0.47 * len(l) - 0.45: l for t, l in zip(date_ticks, date_labels)}
xa.ticker = FixedTicker(ticks=list(offs), minor_ticks=date_ticks)
xa.major_label_overrides = offs
xa.major_tick_line_color = None
xa.major_tick_out, xa.major_tick_in, xa.major_label_standoff = 0, 0, 2
xa.minor_tick_line_color = "black"
xa.minor_tick_out, xa.minor_tick_in = 4, 0
xa.axis_line_color = None
xa.major_label_text_font = FONT
xa.major_label_text_font_size = "14px"
xa.major_label_text_color = "black"
seps(p3)
p3.vbar(x=list(range(len(hull_hist))), top=[v / 1e6 for v in hull_hist], bottom=0, width=0.6,
        fill_color="#0000FF", line_color=None)
hx, hy = xy(hull_green, lambda v: v / 1e6)
p3.line(hx, hy, line_color="#008000", line_width=1.2)
hx, hy = xy(hull_red, lambda v: v / 1e6)
p3.line(hx, hy, line_color="#FF0000", line_width=1, line_dash="2 2")
caption(p3, "Macd_Correct_Hull_Style(12,26,9) 0.000581 0.000356 0.000937", 0.45, 0.002542)

# watermark
p3.scatter([270.6], [-0.001874], marker="circle", size=46, fill_color="white", line_color=None)
p3.scatter([269.9], [-0.00232], marker="inverted_triangle", size=14, fill_color="white", line_color=None)
for dx, col in ((0, "#333333"), (1.5, "white")):
    p3.add_layout(Label(x=2163 + dx, x_units="canvas", y=-0.00188, text="f", text_font=FONT, text_font_style="italic",
                        text_font_size="50px", text_color=col, text_align="center", text_baseline="middle", level="overlay"))
for dx, dy, col in ((-1.2, -0.00002, "#555555"), (0, 0, "white")):
    p3.add_layout(Label(x=2200 + dx, x_units="canvas", y=-0.001885 + dy, text="@FxScotty", text_font="Roboto",
                        text_font_size="53px", text_color=col, text_align="left", text_baseline="alphabetic", level="overlay"))

layout = column(p1, p2, p3, spacing=0)
open("out.html", "w").write(file_html(layout, INLINE))
